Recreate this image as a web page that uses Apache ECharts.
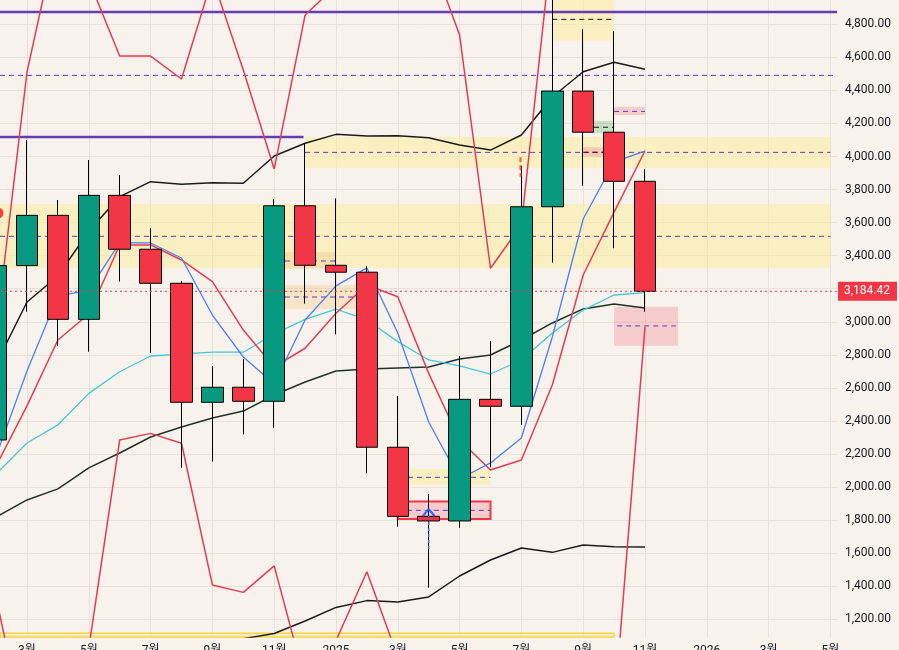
<!DOCTYPE html>
<html><head><meta charset="utf-8">
<script src="https://cdn.jsdelivr.net/npm/echarts@6/dist/echarts.min.js"></script>
<style>html,body{margin:0;padding:0;background:#f7f3ec;}#c{width:899px;height:650px;}</style>
</head><body><div id="c"></div>
<script>
// month index: 0 = 2024-01
const monthIdx = [1,2,3,4,5,6,7,8,9,10,11,12,13,14,15,16,17,18,19,20,21,22];
const opens  = [2285,3340,3644,3015,3765,3439,3233,2513,2604,2519,3702,3342,3300,2241,1823,1795,2531,2489,3696,4396,4147,3850];
const closes = [3340,3644,3015,3765,3439,3233,2513,2604,2519,3702,3342,3300,2241,1823,1795,2531,2489,3696,4396,4147,3850,3184.42];
const lows   = [2150,3061,2854,2819,3243,2813,2117,2154,2319,2359,3110,2924,2083,1760,1391,1754,2120,2377,3358,3823,3445,3061];
const highs  = [3450,4100,3737,3979,3888,3566,3247,2733,2775,3741,4080,3747,3336,2551,1958,2793,2884,3944,4990,4770,4759,3923];

const blueLine  = [2188,2702,3156,3192,3477,3477,3386,3041,2787,2624,3011,3217,3326,2932,2394,2049,2146,2297,2908,3622,3967,4033];
const redLine   = [2128,2491,2890,3047,3465,3465,3374,3243,2950,2727,2840,3052,3223,3152,2688,2285,2103,2164,2618,3283,3664,4035];
const cyanLine  = [2079,2267,2376,2567,2698,2793,2805,2816,2816,2926,3015,3076,3011,2880,2769,2733,2684,2769,2932,3071,3162,3176];
const bbUpper   = [2745,3120,3277,3549,3757,3848,3832,3842,3838,4003,4080,4134,4124,4126,4114,4070,4039,4130,4360,4513,4570,4528];
const bbMid     = [1819,1922,1989,2116,2206,2303,2364,2418,2460,2557,2636,2702,2715,2721,2727,2775,2799,2890,2993,3078,3108,3084];
const bbLower   = [893,724,700,682,657,760,893,996,1083,1114,1190,1272,1313,1305,1335,1462,1559,1631,1605,1650,1639,1638];
const envUpper  = [2938,4511,5364,5068,4608,4608,4469,5080,4523,3925,4856,5032,4959,5334,5243,4735,3324,3586,5310,6187,6689,5104];
const envLower  = [1329,470,415,1026,2285,2325,2265,1408,1363,1523,823,1071,1488,972,131,-165,883,742,-75,379,639,2969];

const lastPrice = 3184.42;
const xTickVals = [2,4,6,8,10,12,14,16,18,20,22,24,26,28];
const yTickVals = [1200,1400,1600,1800,2000,2200,2400,2600,2800,3000,3200,3400,3600,3800,4000,4200,4400,4600,4800];

const X_MIN = 1.1262, X_MAX = 28.2137;
const Y_MAX = 4947.0, Y_MIN = 1092.9;

// zones: [xStart, xEnd, top, bottom]
const yellowZones = [[11,28,4118,3932],[X_MIN,28,3713,3327],[14.33,17,2110,2013],[19,21,4960,4701]];
const tanZones    = [[10.35,12,3422,3319],[10.35,12.65,3223,3077]];
const pinkZones   = [[20,21,4056,3999],[21,22,4301,4251],[21,23.07,3091,2855]];
const greenZones  = [[20.35,21,4215,4142]];
const redBoxZones = [[14,17,1912,1807]];
const bottomZones = [[X_MIN,21,1115,1000]];
// levels: [xStart, xEnd, price]
const purpleDashLevels = [[11,28,4025],[X_MIN,28,3517],[10.35,12,3368],[10.35,12.65,3150],[14.33,17,2059],[14,17,1859],[21,22,4273],[21.1,23,2975],[X_MIN,X_MAX,4491]];
const blackDashLevels  = [[19,21,4830],[20.35,21,4177],[20,20.65,4026]];
const purpleSolidLevels = [[X_MIN,X_MAX,4874],[X_MIN,10.95,4118]];
const priceLevel = [[X_MIN,X_MAX,lastPrice]];
const signalChevron = [[14.81,1825],[15,1867],[15.19,1825]];
const signalStem = [[15,1825],[15,1619]];
const julyMark = [[17.97,3995],[17.97,3878]];
const leftDot = [[1.06,3658]];

const pair = arr => monthIdx.map((m,i)=>[m,arr[i]]);
const candles = monthIdx.map((m,i)=>[m,opens[i],closes[i],lows[i],highs[i]]);
const fmt = v => Number(v).toLocaleString('en-US',{minimumFractionDigits:2,maximumFractionDigits:2});
const FONT = 'Roboto, "Noto Sans CJK KR", sans-serif';

function areas(list, style){
  return list.map(z=>[{coord:[z[0],z[2]],itemStyle:style},{coord:[z[1],z[3]]}]);
}
function lineSeries(data, color, width, z, type){
  return {type:'line', data:data, symbol:'none', smooth:false, z:z||2, silent:true,
    lineStyle:{color:color,width:width,type:type||'solid'}, animation:false};
}
function levelSeries(list, color, width, z, type){
  return list.map(l=>lineSeries([[l[0],l[2]],[l[1],l[2]]], color, width, z, type));
}

const priceSeries = levelSeries(priceLevel,'#f23645',1,6,[2,3]);
priceSeries[0].endLabel = {show:true,distance:1,formatter:()=>fmt(lastPrice),color:'#ffffff',
  backgroundColor:'#f23645',padding:[4,7,3,6],fontSize:12,fontFamily:FONT};
priceSeries[0].clip = false;

const chart = echarts.init(document.getElementById('c'), null, {renderer:'canvas'});
chart.setOption({
  backgroundColor:'#f7f3ec',
  animation:false,
  grid:{left:0,right:62,top:0,bottom:13,outerBoundsMode:'none',containLabel:false},
  xAxis:{type:'value',min:X_MIN,max:X_MAX,
    axisLine:{show:false},
    axisTick:{show:false,customValues:xTickVals},
    axisLabel:{customValues:xTickVals,color:'#131722',fontSize:12,margin:8,fontFamily:FONT,
      formatter:v=>{const r=((v%12)+12)%12; return r===0?String(2024+v/12):(r+1)+'월';}},
    splitLine:{show:true,lineStyle:{color:'#e6e2da',width:1}}},
  yAxis:{type:'value',position:'right',min:Y_MIN,max:Y_MAX,
    axisLine:{show:false},
    axisTick:{show:false,customValues:yTickVals},
    axisLabel:{customValues:yTickVals,color:'#131722',fontSize:12,margin:8,fontFamily:FONT,
      padding:[0,0,5,0],formatter:v=>fmt(v)},
    splitLine:{show:true,lineStyle:{color:'#e6e2da',width:1}}},
  series:[
    {type:'line',data:[],silent:true,z:1,
      markArea:{silent:true,z:1,label:{show:false},data:[].concat(
        areas(bottomZones,{color:'rgba(250,222,150,0.45)',borderColor:'#f5d742',borderWidth:1.5}),
        areas(yellowZones,{color:'rgba(252,236,150,0.5)'}),
        areas(tanZones,{color:'rgba(240,200,130,0.35)'}),
        areas(pinkZones,{color:'rgba(242,140,150,0.38)'}),
        areas(greenZones,{color:'rgba(110,190,120,0.35)'}),
        areas(redBoxZones,{color:'rgba(242,140,150,0.38)',borderColor:'#f23645',borderWidth:2})
      )}},
    ...levelSeries(purpleDashLevels,'#5b3cc4',1,1.5,[5,4]),
    ...levelSeries(blackDashLevels,'#131722',1,1.5,[5,4]),
    ...levelSeries(purpleSolidLevels,'#673ab7',2.5,1.5),
    lineSeries(pair(bbLower),'#1b1b1b',1.5),
    lineSeries(pair(bbUpper),'#1b1b1b',1.5),
    lineSeries(pair(bbMid),'#1f3328',1.5),
    lineSeries(pair(envUpper),'#e23c55',1.5),
    lineSeries(pair(envLower),'#e23c55',1.5),
    lineSeries(pair(cyanLine),'#45c6dc',1.3),
    lineSeries(pair(redLine),'#e23c55',1.5),
    lineSeries(pair(blueLine),'#4d7ef7',1.3),
    {type:'candlestick',data:candles,encode:{x:0,y:[1,2,3,4]},barWidth:22,z:3,silent:true,
      itemStyle:{color:'#089981',color0:'#f23645',borderColor:'#000000',borderColor0:'#000000',borderWidth:1}},
    lineSeries(signalStem,'#2962ff',1.5,4,[3,3]),
    lineSeries(signalChevron,'#2962ff',2,4),
    lineSeries(julyMark,'#ff5a36',2,4,[5,3]),
    {type:'scatter',data:leftDot,symbolSize:11,z:4,silent:true,clip:false,itemStyle:{color:'#ff1010'}},
    ...priceSeries
  ]
});
</script></body></html>
